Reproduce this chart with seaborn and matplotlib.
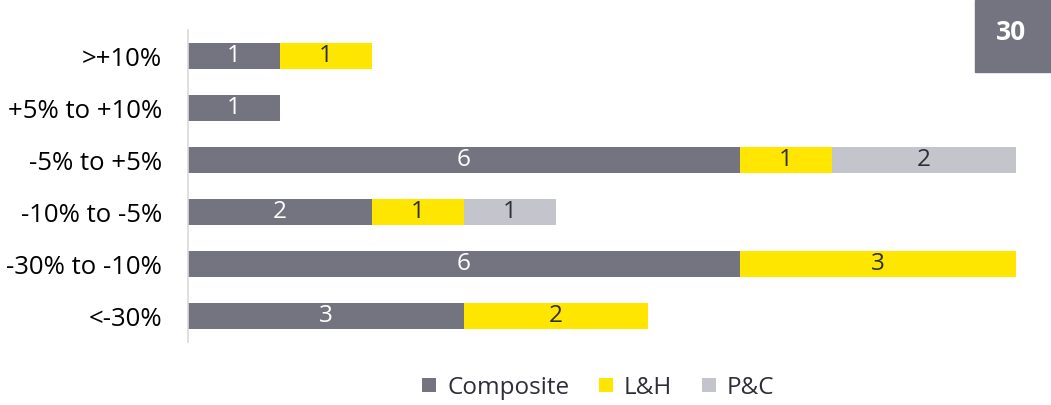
import numpy as np
import pandas as pd
import seaborn as sns
import matplotlib.pyplot as plt
from matplotlib.patches import Rectangle
from matplotlib.lines import Line2D

# -- dados do gráfico -- #
categorias = [">+10%", "+5% to +10%", "-5% to +5%", "-10% to -5%", "-30% to -10%", "<-30%"]
composite = [1, 1, 6, 2, 6, 3]
lh = [1, 0, 1, 1, 3, 2]
pc = [0, 0, 2, 1, 0, 0]
series = ["Composite", "L&H", "P&C"]
cores = {"Composite": "#747480", "L&H": "#FFE600", "P&C": "#C4C4CD"}
cor_texto = {"Composite": "white", "L&H": "#2E2E38", "P&C": "#2E2E38"}

sns.set_theme(style="white")
plt.rcParams["font.family"] = ["Open Sans", "DejaVu Sans"]

df = pd.DataFrame({"cat": categorias, "Composite": composite, "L&H": lh, "P&C": pc})
df["c1"] = df["Composite"]
df["c2"] = df["c1"] + df["L&H"]
df["c3"] = df["c2"] + df["P&C"]

fig = plt.figure(figsize=(10.51, 4.05), dpi=100)
ax = fig.add_axes([188 / 1051, 1 - 342 / 405, (1016 - 188) / 1051, 312 / 405])

# barras empilhadas: desenha do total para o primeiro
for col, s in [("c3", "P&C"), ("c2", "L&H"), ("c1", "Composite")]:
    sns.barplot(data=df, x=col, y="cat", color=cores[s], saturation=1,
                width=0.5, linewidth=0, ax=ax, orient="h")

# rótulos
for i, row in df.iterrows():
    inicio = 0
    for s in series:
        v = row[s]
        if v > 0:
            ax.text(inicio + v / 2, i, str(v), ha="center", va="center",
                    fontsize=17.5, color=cor_texto[s])
        inicio += v

ax.set_xlim(0, 9)
ax.set_ylim(5.5, -0.5)
ax.set_xlabel("")
ax.set_ylabel("")
ax.set_xticks([])
ax.tick_params(axis="y", labelsize=18.5, length=0, pad=18.5, colors="black")
for lado in ["top", "right", "bottom"]:
    ax.spines[lado].set_visible(False)
ax.spines["left"].set_color("#D9D9D9")
ax.spines["left"].set_linewidth(1.2)

handles = [Line2D([0], [0], marker="s", linestyle="", markersize=10.5,
                  markerfacecolor=cores[s], markeredgewidth=0) for s in series]
fig.legend(handles, series, loc="center", bbox_to_anchor=(597 / 1051, 1 - 388 / 405),
           ncol=3, frameon=False, fontsize=17.5, handlelength=0.8, handletextpad=0.35,
           columnspacing=1.1, labelcolor="#2E2E38")

# caixa com número da página
fig.patches.append(Rectangle((975 / 1051, 1 - 72 / 405), 76 / 1051, 72 / 405,
                             transform=fig.transFigure, color="#747480", zorder=0))
fig.text(1011 / 1051, 1 - 32 / 405, "30", ha="center", va="center",
         fontsize=19, fontweight="bold", color="white")

fig.savefig("out.png", dpi=100)
